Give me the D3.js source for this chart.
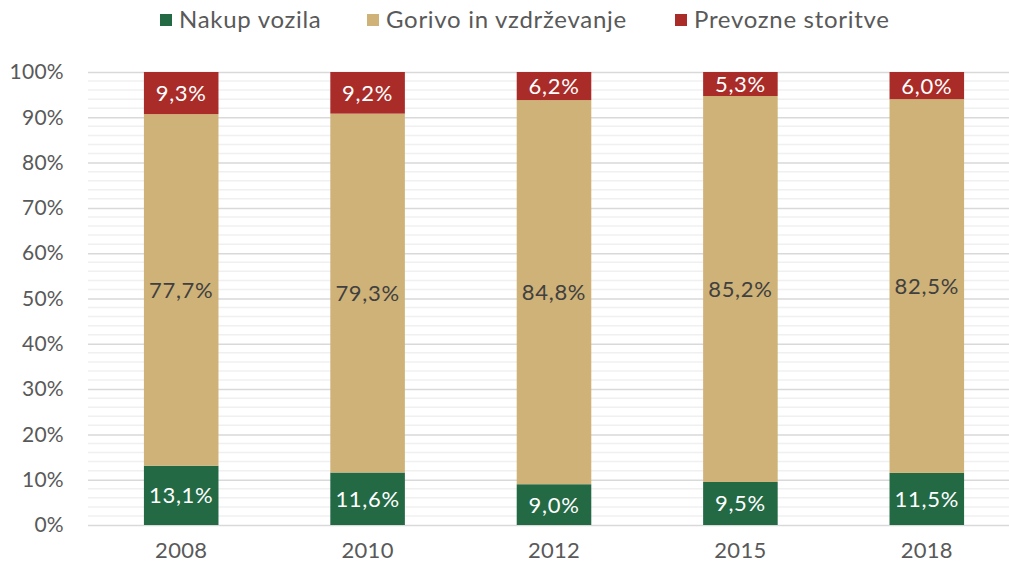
<!DOCTYPE html>
<html>
<head>
<meta charset="utf-8">
<script src="https://cdn.jsdelivr.net/npm/d3@7"></script>
<style>
  body { margin: 0; background: #fff; overflow: hidden; }
  svg { display: block; }
  text { font-family: "Lato", "DejaVu Sans", sans-serif; font-weight: 400; }
</style>
</head>
<body>
<div id="chart"></div>
<script>
let years = ["2008", "2010", "2012", "2015", "2018"];
let seriesNames = ["Nakup vozila", "Gorivo in vzdrževanje", "Prevozne storitve"];
let nakup = [13.1, 11.6, 9.0, 9.5, 11.5];
let gorivo = [77.7, 79.3, 84.8, 85.2, 82.5];
let prevoz = [9.3, 9.2, 6.2, 5.3, 6.0];
let colors = ["#226944", "#cfb277", "#a92c28"];
let labelColors = ["#fff", "#404040", "#fff"];
let yTicks = [0, 0.1, 0.2, 0.3, 0.4, 0.5, 0.6, 0.7, 0.8, 0.9, 1];

let width = 1009, height = 569;
let plotLeft = 88, plotRight = 1020, plotTop = 72, plotBottom = 525;

// table for the stack
let table = years.map(function(y, i) {
	return { year: y, 0: nakup[i], 1: gorivo[i], 2: prevoz[i] };
});
let stacked = d3.stack().keys([0, 1, 2]).offset(d3.stackOffsetExpand)(table);

let x = d3.scaleBand().domain(years).range([plotLeft, plotRight]).paddingInner(0.6).paddingOuter(0.3);
let y = d3.scaleLinear().domain([0, 1]).range([plotBottom, plotTop]);

let svg = d3.select("#chart").append("svg")
	.attr("width", width)
	.attr("height", height);

// minor gridlines every 2%
svg.append("g").selectAll("line")
	.data(d3.range(0, 1.001, 0.02).filter(function(d) { return Math.round(d * 50) % 5 != 0; }))
	.enter().append("line")
	.attr("x1", plotLeft).attr("x2", width)
	.attr("y1", function(d) { return y(d); })
	.attr("y2", function(d) { return y(d); })
	.style("stroke", "#f0f0f0")
	.style("stroke-width", 1.5);

// major gridlines + y axis labels
let yAxis = d3.axisLeft(y).tickValues(yTicks).tickSize(plotLeft - width).tickPadding(24)
	.tickFormat(function(d) { return Math.round(d * 100) + "%"; });
svg.append("g")
	.attr("transform", "translate(" + plotLeft + ",0)")
	.call(yAxis)
	.call(function(g) {
		g.select(".domain").remove();
		g.selectAll(".tick line").style("stroke", "#d9d9d9").style("stroke-width", 1.5);
		g.selectAll(".tick text").style("fill", "#595959").style("font-size", "21px")
			.style("font-family", "Lato, sans-serif").style("letter-spacing", "0.3px");
	});

// x axis labels
let xAxis = d3.axisBottom(x).tickSize(0).tickPadding(17);
svg.append("g")
	.attr("transform", "translate(0," + plotBottom + ")")
	.call(xAxis)
	.call(function(g) {
		g.select(".domain").remove();
		g.selectAll(".tick text").style("fill", "#595959").style("font-size", "22px")
			.style("font-family", "Lato, sans-serif").style("letter-spacing", "0.3px");
	});

// bars
let layer = svg.selectAll(".layer")
	.data(stacked)
	.enter().append("g")
	.attr("class", "layer")
	.style("fill", function(d, i) { return colors[i]; });

layer.selectAll("rect")
	.data(function(d) { return d; })
	.enter().append("rect")
	.attr("x", function(d) { return x(d.data.year); })
	.attr("width", x.bandwidth())
	.attr("y", function(d) { return y(d[1]); })
	.attr("height", function(d) { return y(d[0]) - y(d[1]); });

// value labels
layer.selectAll("text")
	.data(function(d) { return d.map(function(p) { return { p: p, key: d.key }; }); })
	.enter().append("text")
	.attr("x", function(d) { return x(d.p.data.year) + x.bandwidth() / 2; })
	.attr("y", function(d) { return y((d.p[0] + d.p[1]) / 2); })
	.attr("dy", ".36em")
	.attr("text-anchor", "middle")
	.style("font-size", "22px")
	.style("letter-spacing", "0.7px")
	.style("fill", function(d) { return labelColors[d.key]; })
	.text(function(d) { return d.p.data[d.key].toFixed(1).replace(".", ",") + "%"; });

// legend
let legendX = [160, 367, 675];
let legend = svg.selectAll(".legend")
	.data(seriesNames)
	.enter().append("g")
	.attr("class", "legend")
	.attr("transform", function(d, i) { return "translate(" + legendX[i] + ",0)"; });
legend.append("rect")
	.attr("x", 0).attr("y", 14)
	.attr("width", 12).attr("height", 12)
	.style("fill", function(d, i) { return colors[i]; });
legend.append("text")
	.attr("x", 19).attr("y", 28)
	.style("font-size", "24px")
	.style("letter-spacing", "0.7px")
	.style("fill", "#595959")
	.text(function(d) { return d; });
</script>
</body>
</html>
